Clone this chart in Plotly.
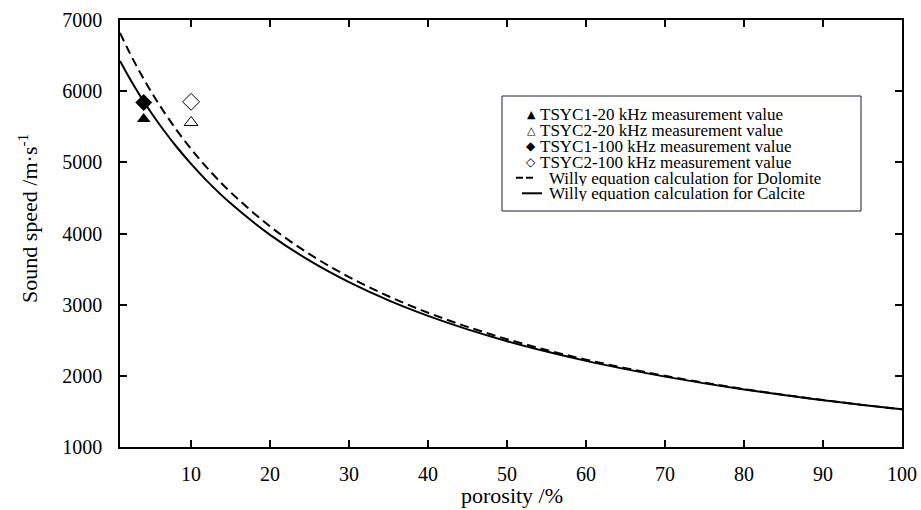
import plotly.graph_objects as go

# Porosity (%) sample points along the curves
porosity = [1, 2, 3, 4, 5, 6, 8, 10, 12, 15, 20, 25, 30, 35, 40, 45, 50,
            55, 60, 65, 70, 75, 80, 85, 90, 95, 100]
calcite_speed = [6425, 6224, 6035, 5857, 5690, 5532, 5240, 4978, 4740, 4424,
                 3981, 3619, 3317, 3061, 2843, 2653, 2487, 2341, 2210, 2094,
                 1989, 1894, 1808, 1730, 1658, 1591, 1530]
dolomite_speed = [6818, 6588, 6373, 6172, 5983, 5805, 5479, 5188, 4926, 4580,
                  4099, 3710, 3388, 3118, 2887, 2688, 2515, 2363, 2228, 2108,
                  2000, 1903, 1814, 1734, 1660, 1592, 1530]

# Measurements
tsyc1_20_x = [4]
tsyc1_20_y = [5610]
tsyc2_20_x = [10]
tsyc2_20_y = [5560]
tsyc1_100_x = [4]
tsyc1_100_y = [5840]
tsyc2_100_x = [10]
tsyc2_100_y = [5850]

x_ticks = [10, 20, 30, 40, 50, 60, 70, 80, 90, 100]
y_ticks = [1000, 2000, 3000, 4000, 5000, 6000, 7000]

legend_labels = ["TSYC1-20 kHz measurement value",
                 "TSYC2-20 kHz measurement value",
                 "TSYC1-100 kHz measurement value",
                 "TSYC2-100 kHz measurement value",
                 "Willy equation calculation for Dolomite",
                 "Willy equation calculation for Calcite"]
legend_glyphs = ["▲", "△", "◆", "◇"]

FONT = "Liberation Serif, Times New Roman, serif"

fig = go.Figure()
fig.add_trace(go.Scatter(x=tsyc1_20_x, y=tsyc1_20_y, mode="markers",
                         name=legend_labels[0],
                         marker=dict(symbol="triangle-up", size=12, color="black")))
fig.add_trace(go.Scatter(x=tsyc2_20_x, y=tsyc2_20_y, mode="markers",
                         name=legend_labels[1],
                         marker=dict(symbol="triangle-up-open", size=12, color="black",
                                     line=dict(width=1))))
fig.add_trace(go.Scatter(x=tsyc1_100_x, y=tsyc1_100_y, mode="markers",
                         name=legend_labels[2],
                         marker=dict(symbol="diamond", size=13, color="black")))
fig.add_trace(go.Scatter(x=tsyc2_100_x, y=tsyc2_100_y, mode="markers",
                         name=legend_labels[3],
                         marker=dict(symbol="diamond-open", size=13, color="black",
                                     line=dict(width=1))))
fig.add_trace(go.Scatter(x=porosity, y=dolomite_speed, mode="lines",
                         name=legend_labels[4],
                         line=dict(color="black", width=2, dash="9px,5px", shape="spline")))
fig.add_trace(go.Scatter(x=porosity, y=calcite_speed, mode="lines",
                         name=legend_labels[5],
                         line=dict(color="black", width=2, shape="spline")))

axis_common = dict(showline=True, linecolor="black", linewidth=1.5, mirror="ticks",
                   ticks="inside", ticklen=7, tickwidth=1.5, tickcolor="black",
                   showgrid=False, zeroline=False, automargin=False,
                   tickfont=dict(family=FONT, size=20, color="black"))

# ---- plot-area geometry (pixels) used for placing the hand-made legend ----
L, R, T, B = 120, 902, 20, 447
W, H = R - L, B - T
def px(xp):
    return (xp - L) / W
def py(yp):
    return (B - yp) / H

shapes = [dict(type="rect", xref="paper", yref="paper",
               x0=px(502), x1=px(861), y0=py(211), y1=py(96),
               line=dict(color="#1a1a3a", width=1), fillcolor="white", layer="above")]
row_y = [114, 130, 146, 161.7, 177.7, 193.3]
annotations = []
for i, lab in enumerate(legend_labels):
    xs = 539 if i < 4 else 548
    annotations.append(dict(text=lab, xref="paper", yref="paper", x=px(xs), y=py(row_y[i]),
                            xanchor="left", yanchor="middle", showarrow=False,
                            height=16, borderpad=0, valign="middle",
                            font=dict(family=FONT, size=17, color="black")))
for i, g in enumerate(legend_glyphs):
    annotations.append(dict(text=g, xref="paper", yref="paper", x=px(531), y=py(row_y[i]),
                            xanchor="center", yanchor="middle", showarrow=False,
                            height=14, borderpad=0,
                            font=dict(family="DejaVu Sans", size=11 if i < 2 else 12,
                                      color="black")))
shapes.append(dict(type="line", xref="paper", yref="paper", x0=px(516), x1=px(533),
                   y0=py(row_y[4]), y1=py(row_y[4]),
                   line=dict(color="black", width=2, dash="7px,3px")))
shapes.append(dict(type="line", xref="paper", yref="paper", x0=px(522), x1=px(542),
                   y0=py(row_y[5]), y1=py(row_y[5]),
                   line=dict(color="black", width=2)))

# axis titles
annotations.append(dict(text="porosity /%", xref="paper", yref="paper",
                        x=px(512), y=py(496), xanchor="center", yanchor="middle",
                        showarrow=False, font=dict(family=FONT, size=22, color="black")))
annotations.append(dict(text="Sound speed /m·s<sup>-1</sup>", xref="paper", yref="paper",
                        x=px(28), y=py(219), xanchor="center", yanchor="middle",
                        textangle=-90, showarrow=False,
                        font=dict(family=FONT, size=22, color="black")))

fig.update_layout(
    width=921, height=510,
    paper_bgcolor="white", plot_bgcolor="white",
    margin=dict(l=L, r=921 - R, t=T, b=510 - B),
    font=dict(family=FONT, color="black"),
    xaxis=dict(range=[1, 100], tickvals=x_ticks, ticklabelstandoff=8, **axis_common),
    yaxis=dict(range=[1000, 7000], tickvals=y_ticks, ticklabelstandoff=12, **axis_common),
    showlegend=False,
    shapes=shapes,
    annotations=annotations,
)

fig.write_html("out.html",
               config={"displayModeBar": False},
               post_script="document.body.style.margin='0px';"
                           "document.body.style.padding='0px';"
                           "document.body.style.overflow='hidden';")
